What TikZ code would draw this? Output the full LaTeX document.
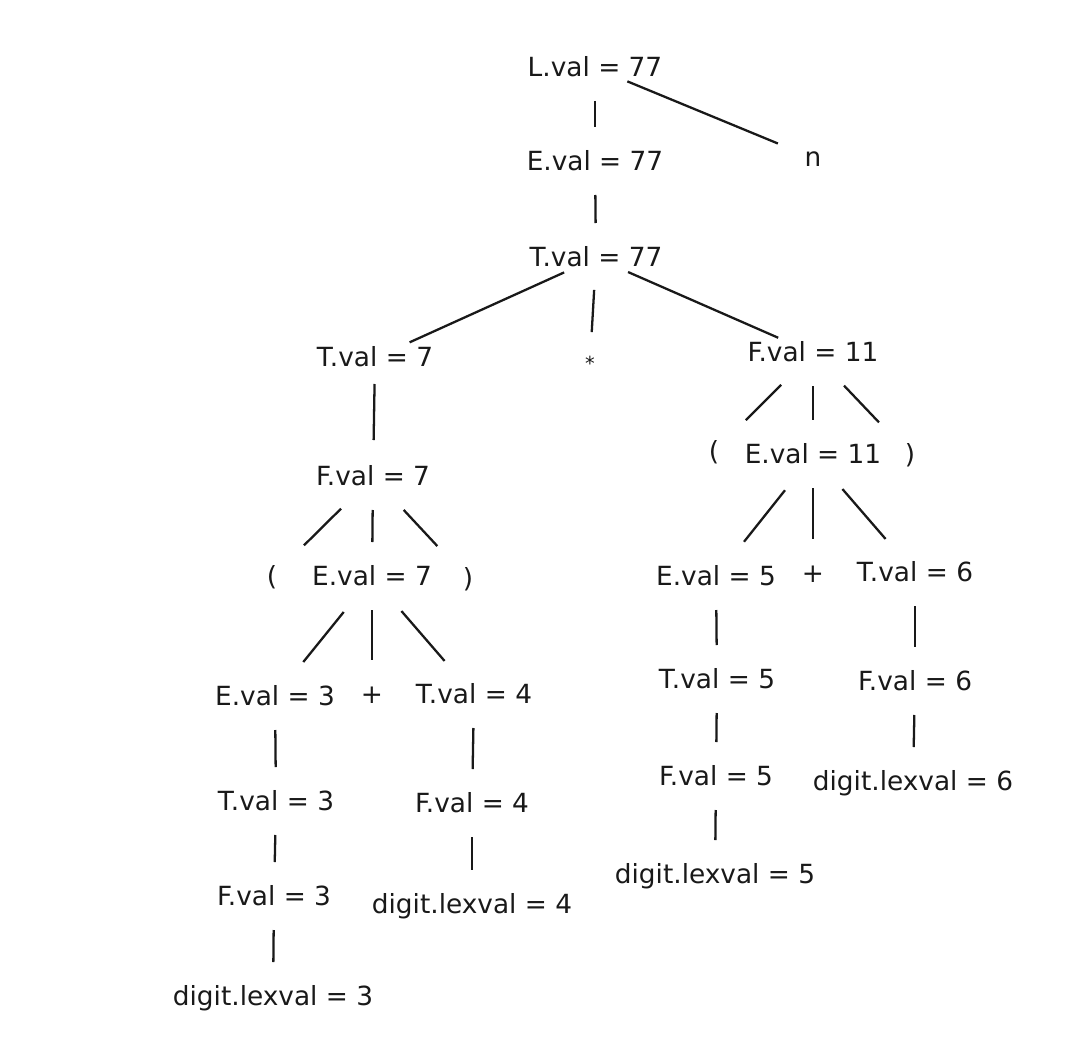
\documentclass[tikz,border=0pt]{standalone}
\usepackage{fontspec}
\setmainfont{DejaVu Sans}
\colorlet{ink}{black!90}
\tikzset{
  lab/.style={inner sep=0pt, text height=0.95em, text depth=0pt,
    font=\fontsize{15}{18}\selectfont, text=ink},
  link/.style={draw=ink, line width=1.3pt, shorten <=6.6mm, shorten >=7mm},
  wide/.style={link, shorten <=7mm, shorten >=7.6mm},
  slant/.style={link, shorten <=9mm, shorten >=9mm},
}
\begin{document}
\begin{tikzpicture}[x=0.2mm,y=-0.2mm]
  \useasboundingbox (0,0) rectangle (1085,1045);

  % top of the tree
  \node[lab] (L) at (595,68) {L.val = 77};
  \node[lab] (E) at (595,162) {E.val = 77};
  \node[lab] (n) at (813,158) {n};
  \node[lab] (T) at (596,258) {T.val = 77};
  \node[lab] (T7) at (375,358) {T.val = 7};
  \node[lab,font=\fontsize{11}{13}\selectfont] (star) at (590,362) {*};
  \node[lab] (F11) at (813,353) {F.val = 11};

  % left part
  \node[lab] (F7) at (373,477) {F.val = 7};
  \node[lab] (lp7) at (272,577) {(};
  \node[lab] (E7) at (372,577) {E.val = 7};
  \node[lab] (rp7) at (468,579) {)};
  \node[lab] (E3) at (275,697) {E.val = 3};
  \node[lab] (plus7) at (372,695) {+};
  \node[lab] (T4) at (474,695) {T.val = 4};
  \node[lab] (T3) at (276,802) {T.val = 3};
  \node[lab] (F4) at (472,804) {F.val = 4};
  \node[lab] (F3) at (274,897) {F.val = 3};
  \node[lab] (d4) at (472,905) {digit.lexval = 4};
  \node[lab] (d3) at (273,997) {digit.lexval = 3};

  % right part
  \node[lab] (lp11) at (714,452) {(};
  \node[lab] (E11) at (813,455) {E.val = 11};
  \node[lab] (rp11) at (910,455) {)};
  \node[lab] (E5) at (716,577) {E.val = 5};
  \node[lab] (plus11) at (813,574) {+};
  \node[lab] (T6) at (915,573) {T.val = 6};
  \node[lab] (T5) at (717,680) {T.val = 5};
  \node[lab] (F6) at (915,682) {F.val = 6};
  \node[lab] (F5) at (716,777) {F.val = 5};
  \node[lab] (d6) at (913,782) {digit.lexval = 6};
  \node[lab] (d5) at (715,875) {digit.lexval = 5};

  % edges
  \foreach \a/\b in {L/E,E/T,F7/E7,E7/plus7,E3/T3,T3/F3,F3/d3,T4/F4,F4/d4,
                     F11/E11,E11/plus11,E5/T5,T5/F5,F5/d5,T6/F6,F6/d6}
  {
    \draw[link] (\a.center) -- (\b.center);
  }
  \foreach \a/\b in {L/n,T/T7,T/F11}
  {
    \draw[wide] (\a.center) -- (\b.center);
  }
  \foreach \a/\b in {F7/lp7,F7/rp7,E7/E3,E7/T4,F11/lp11,F11/rp11,E11/E5,E11/T6}
  {
    \draw[slant] (\a.center) -- (\b.center);
  }
  \draw[link,shorten <=6.4mm,shorten >=6mm] (T.center) -- (star.center);
  \draw[link,shorten <=5.2mm,shorten >=7.4mm] (T7.center) -- (F7.center);
\end{tikzpicture}
\end{document}
